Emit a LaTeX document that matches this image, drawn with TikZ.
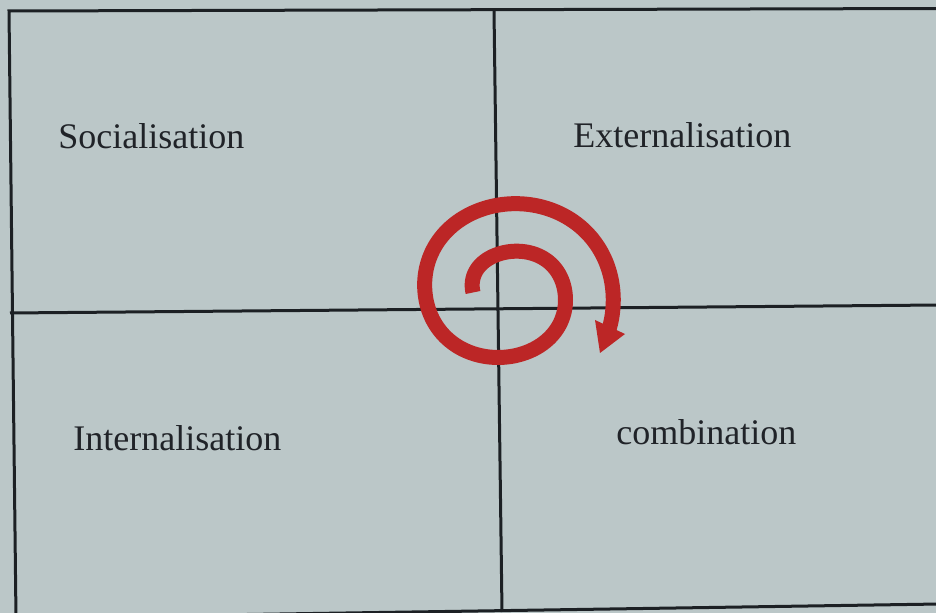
\documentclass[tikz,border=0pt]{standalone}
\usepackage{fontspec}
\setmainfont{Liberation Serif}
\definecolor{bgc}{RGB}{187,199,200}
\definecolor{linec}{RGB}{28,32,36}
\definecolor{spiralred}{RGB}{188,38,38}
\definecolor{txtc}{RGB}{32,35,40}
\begin{document}
\begin{tikzpicture}[x=0.5pt,y=-0.5pt,
  gridline/.style={draw=linec,line width=1.5pt},
  label/.style={anchor=base west,inner sep=0pt,text=txtc,font=\fontsize{18}{20}\selectfont},
  spiralband/.style={draw=spiralred,line width=7.5pt,line cap=butt},
  spiralhead/.style={fill=spiralred,draw=none}]
\fill[bgc] (0,0) rectangle (936,613);
\useasboundingbox (0,0) rectangle (936,613);
% frame corners
\coordinate (tl) at (9,11);
\coordinate (tr) at (940,8.5);
\coordinate (bl) at (16,618);
\coordinate (br) at (940,604);
\coordinate (vt) at (494,11);
\coordinate (vb) at (502,612);
\coordinate (hl) at (10,313);
\coordinate (hr) at (940,305);
\draw[gridline] (tr) -- (tl) -- (bl);
\draw[gridline] (bl) -- (br);
\draw[gridline] (vt) -- (vb);
\draw[gridline] (hl) -- (hr);
% labels
\node[label] (soc) at (58,149) {Socialisation};
\node[label] (ext) at (573,148) {Externalisation};
\node[label] (int) at (73,451) {Internalisation};
\node[label] (com) at (616,445) {combination};
% spiral
\draw[spiralband] plot[domain=0:6.22,samples=240,smooth,variable=\t]
  ({507+(34+12*\t)*cos(180-90*\t)},{292.5-(34+12*\t-5.5*abs(sin(180-90*\t)))*sin(180-90*\t)});
\coordinate (hA) at (595,320);
\coordinate (hB) at (625,334);
\coordinate (hT) at (600,353);
\fill[spiralhead] (hA) -- (hB) -- (hT) -- cycle;
\end{tikzpicture}
\end{document}
